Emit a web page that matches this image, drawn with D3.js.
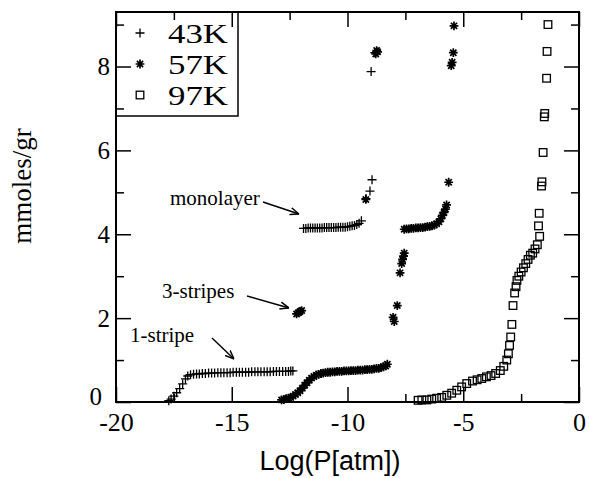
<!DOCTYPE html>
<html><head><meta charset="utf-8">
<script src="https://cdn.jsdelivr.net/npm/d3@7"></script>
<style>html,body{margin:0;padding:0;background:#fff}</style>
</head><body>
<svg id="c" width="589" height="478"></svg>
<script>
// ---- data ----
const xTicks = [-20, -15, -10, -5, 0];
const xMinor = [-17.5, -12.5, -7.5, -2.5];
const yTicks = [0, 2, 4, 6, 8];
const yMinor = [1, 3, 5, 7, 9];
const legendLabels = ["43K", "57K", "97K"];

const k43 = [
 [-17.72,0.03],[-17.62,0.07],[-17.5,0.14],[-17.38,0.22],[-17.25,0.32],[-17.12,0.43],[-17.0,0.55],[-16.9,0.62],
 [-16.78,0.65],[-16.65,0.66],[-16.52,0.67],[-16.4,0.67],[-16.27,0.68],[-16.14,0.68],[-16.0,0.69],[-15.87,0.69],
 [-15.74,0.69],[-15.6,0.7],[-15.47,0.7],[-15.34,0.7],[-15.2,0.7],[-15.07,0.7],[-14.94,0.71],[-14.8,0.71],
 [-14.67,0.71],[-14.54,0.71],[-14.4,0.71],[-14.27,0.71],[-14.14,0.72],[-14.0,0.72],[-13.87,0.72],[-13.74,0.72],
 [-13.6,0.72],[-13.47,0.72],[-13.34,0.72],[-13.2,0.73],[-13.07,0.73],[-12.94,0.73],[-12.8,0.73],[-12.67,0.73],
 [-12.55,0.73],[-12.45,0.74],[-12.36,0.74],
 [-11.9,4.14],[-11.8,4.14],[-11.7,4.15],[-11.6,4.15],[-11.5,4.15],[-11.4,4.15],[-11.3,4.15],[-11.2,4.15],
 [-11.1,4.15],[-11.0,4.16],[-10.9,4.16],[-10.8,4.16],[-10.7,4.16],[-10.6,4.16],[-10.5,4.16],[-10.4,4.17],
 [-10.3,4.17],[-10.2,4.17],[-10.1,4.17],[-10.0,4.18],[-9.9,4.19],[-9.8,4.2],[-9.7,4.21],[-9.6,4.23],
 [-9.5,4.26],[-9.4,4.32],[-9.2,4.85],[-9.03,5.03],[-8.94,5.3],[-8.98,7.88],[-8.82,8.33]
];
const k57 = [
 [-12.2,2.1],[-12.12,2.13],[-12.05,2.16],[-11.98,2.18],
 [-12.85,0.05],[-12.75,0.06],[-12.65,0.08],[-12.55,0.09],[-12.45,0.11],[-12.35,0.14],[-12.25,0.18],[-12.15,0.22],
 [-12.05,0.27],[-11.95,0.33],[-11.85,0.4],[-11.75,0.46],[-11.65,0.52],[-11.55,0.57],[-11.45,0.61],[-11.35,0.64],
 [-11.25,0.66],[-11.15,0.68],[-11.05,0.69],[-10.95,0.7],[-10.85,0.71],[-10.75,0.71],[-10.65,0.72],[-10.55,0.72],
 [-10.45,0.73],[-10.35,0.73],[-10.25,0.73],[-10.15,0.74],[-10.05,0.74],[-9.95,0.74],[-9.85,0.75],[-9.75,0.75],
 [-9.65,0.75],[-9.55,0.76],[-9.45,0.76],[-9.35,0.76],[-9.25,0.77],[-9.15,0.77],[-9.05,0.78],[-8.95,0.78],
 [-8.85,0.79],[-8.75,0.8],[-8.65,0.8],[-8.55,0.82],[-8.45,0.84],[-8.35,0.86],[-8.28,0.9],
 [-8.03,2.02],[-7.98,1.92],[-7.85,2.3],[-7.73,3.08],[-7.66,3.3],[-7.62,3.4],[-7.58,3.48],[-7.55,3.55],
 [-7.55,4.12],[-7.45,4.13],[-7.35,4.13],[-7.25,4.14],[-7.15,4.14],[-7.05,4.15],[-6.95,4.15],[-6.85,4.16],
 [-6.75,4.16],[-6.65,4.17],[-6.55,4.18],[-6.45,4.19],[-6.35,4.2],[-6.25,4.22],[-6.15,4.25],[-6.05,4.3],
 [-5.97,4.37],[-5.9,4.45],[-5.83,4.52],[-5.77,4.6],[-5.72,4.7],
 [-5.63,5.24],[-5.52,8.02],[-5.48,8.1],[-5.43,8.33],[-5.4,8.97],
 [-9.21,4.83],[-8.78,8.3],[-8.7,8.35],[-8.74,8.38]
];
const k97 = [
 [-6.95,0.04],[-6.79,0.05],[-6.57,0.05],[-6.36,0.07],[-6.15,0.09],[-5.93,0.11],[-5.71,0.16],[-5.5,0.21],
 [-5.28,0.28],[-5.07,0.36],[-4.85,0.44],[-4.6,0.5],[-4.4,0.53],[-4.2,0.56],[-4.0,0.6],[-3.8,0.63],
 [-3.6,0.68],[-3.4,0.75],[-3.25,0.85],[-3.12,1.0],[-3.05,1.15],[-3.0,1.35],[-2.95,1.55],[-2.9,1.85],
 [-2.85,2.3],[-2.78,2.6],[-2.72,2.75],[-2.68,2.9],[-2.6,3.0],[-2.5,3.1],[-2.4,3.2],[-2.3,3.3],
 [-2.2,3.4],[-2.1,3.5],[-2.0,3.55],[-1.9,3.65],[-1.8,3.75],[-1.7,3.95],[-1.75,4.2],[-1.72,4.5],
 [-1.62,5.15],[-1.6,5.25],[-1.55,5.95],[-1.5,6.8],[-1.48,6.88],[-1.4,7.72],[-1.38,8.36],[-1.34,9.0]
];

// ---- layout ----
const L = 116, R = 579, T = 12, B = 402;
const svg = d3.select("#c");
const x = d3.scaleLinear().domain([-20, 0]).range([L, R]);
const y = d3.scaleLinear().domain([0, 9.3]).range([B, T]);
const serif = "'Liberation Serif','Times New Roman',serif";
const sans = "'Liberation Sans',Arial,sans-serif";

// symbols
function plus(g, s) { g.append("path").attr("d", `M${-s},0H${s}M0,${-s}V${s}`).attr("stroke","#000").attr("stroke-width",1.3).attr("fill","none"); }
function star(g, s) {
  const d = [];
  for (let i = 0; i < 4; i++) { const a = i*Math.PI/4; d.push(`M${-s*Math.cos(a)},${-s*Math.sin(a)}L${s*Math.cos(a)},${s*Math.sin(a)}`); }
  g.append("path").attr("d", d.join("")).attr("stroke","#000").attr("stroke-width",1.7).attr("fill","none");
}
function square(g, s) { g.append("rect").attr("x",-s).attr("y",-s).attr("width",2*s).attr("height",2*s).attr("stroke","#000").attr("stroke-width",1.3).attr("fill","none"); }

function drawSeries(data, fn, s) {
  const g = svg.append("g");
  data.forEach(d => { const gg = g.append("g").attr("transform", `translate(${x(d[0])},${y(d[1])})`); fn(gg, s); });
}
drawSeries(k43, plus, 4.5);
drawSeries(k57, star, 4.4);
drawSeries(k97, square, 3.8);

// legend
const lg = svg.append("g");
lg.append("rect").attr("x", L).attr("y", T).attr("width", 122).attr("height", 104).attr("fill","#fff").attr("stroke","#000").attr("stroke-width",1.5);
const symFns = [[plus,4.5],[star,4.4],[square,3.8]];
legendLabels.forEach((t, i) => {
  const cy = 33 + i*31;
  const gg = lg.append("g").attr("transform", `translate(140,${cy})`);
  symFns[i][0](gg, symFns[i][1]);
  lg.append("text").attr("x", 168).attr("y", cy + 10).attr("font-family", serif).attr("font-size", 28)
    .attr("textLength", 60).attr("lengthAdjust", "spacingAndGlyphs").text(t);
});

// axes
const fmt = d => String(d);
function styleAxis(g) { g.select(".domain").remove(); g.selectAll("line").attr("stroke","#000").attr("stroke-width",1.5); }
svg.append("g").attr("transform",`translate(0,${B})`)
  .call(d3.axisBottom(x).tickValues(xTicks).tickSizeInner(-15).tickSizeOuter(0).tickPadding(11).tickFormat(fmt))
  .call(styleAxis).selectAll("text").attr("font-family", serif).attr("font-size", 26).attr("fill","#000");
svg.append("g").attr("transform",`translate(0,${B})`)
  .call(d3.axisBottom(x).tickValues(xMinor).tickSizeInner(-8).tickSizeOuter(0).tickFormat(""))
  .call(styleAxis);
svg.append("g").attr("transform",`translate(0,${T})`)
  .call(d3.axisTop(x).tickValues(xTicks).tickSizeInner(-15).tickSizeOuter(0).tickFormat(""))
  .call(styleAxis);
svg.append("g").attr("transform",`translate(0,${T})`)
  .call(d3.axisTop(x).tickValues(xMinor).tickSizeInner(-8).tickSizeOuter(0).tickFormat(""))
  .call(styleAxis);
const yax = svg.append("g").attr("transform",`translate(${L},0)`)
  .call(d3.axisLeft(y).tickValues(yTicks).tickSizeInner(-15).tickSizeOuter(0).tickPadding(6).tickFormat(fmt))
  .call(styleAxis);
yax.selectAll("text").attr("font-family", serif).attr("font-size", 25).attr("fill","#000")
  .attr("dx", d => d === 0 ? -8 : 0).attr("dy", d => d === 0 ? "0.1em" : "0.32em");
svg.append("g").attr("transform",`translate(${L},0)`)
  .call(d3.axisLeft(y).tickValues(yMinor).tickSizeInner(-8).tickSizeOuter(0).tickFormat(""))
  .call(styleAxis);
svg.append("g").attr("transform",`translate(${R},0)`)
  .call(d3.axisRight(y).tickValues(yTicks).tickSizeInner(-15).tickSizeOuter(0).tickFormat(""))
  .call(styleAxis);
svg.append("g").attr("transform",`translate(${R},0)`)
  .call(d3.axisRight(y).tickValues(yMinor).tickSizeInner(-8).tickSizeOuter(0).tickFormat(""))
  .call(styleAxis);

// frame
svg.append("rect").attr("x", L).attr("y", T).attr("width", R-L).attr("height", B-T).attr("fill","none").attr("stroke","#000").attr("stroke-width",2);

// titles
svg.append("text").attr("x", 330).attr("y", 470).attr("text-anchor","middle").attr("font-family", sans).attr("font-size", 27).text("Log(P[atm])");
svg.append("text").attr("transform","translate(31,186) rotate(-90)").attr("text-anchor","middle").attr("font-family", serif).attr("font-size", 27).text("mmoles/gr");

// annotations
const defs = svg.append("defs");
defs.append("marker").attr("id","ah").attr("viewBox","0 0 10 10").attr("refX",10).attr("refY",5)
  .attr("markerWidth",9).attr("markerHeight",9).attr("markerUnits","userSpaceOnUse").attr("orient","auto")
  .append("path").attr("d","M0,1L10,5L0,9").attr("fill","none").attr("stroke","#000").attr("stroke-width",1.6);
const notes = [
  {t:"monolayer", tx:170, ty:205, x1:263, y1:202, x2:299, y2:214},
  {t:"3-stripes", tx:162, ty:298, x1:247, y1:296, x2:289, y2:308},
  {t:"1-stripe", tx:130, ty:342, x1:212, y1:338, x2:234, y2:359}
];
notes.forEach(n => {
  svg.append("text").attr("x", n.tx).attr("y", n.ty).attr("font-family", serif).attr("font-size", 21).text(n.t);
  svg.append("line").attr("x1",n.x1).attr("y1",n.y1).attr("x2",n.x2).attr("y2",n.y2).attr("stroke","#000").attr("stroke-width",1.4).attr("marker-end","url(#ah)");
});
</script>
</body></html>
